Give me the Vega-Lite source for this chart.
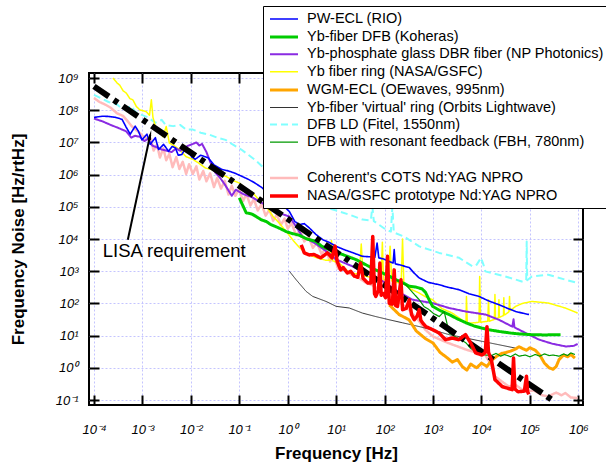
{
"$schema": "https://vega.github.io/schema/vega-lite/v6.json",
"autosize": "none",
"width": 494, "height": 332,
"padding": {"left": 89, "top": 73, "right": 23, "bottom": 61},
"background": "white",
"datasets": {
"main": [
{"s":"Coherent's COTS Nd:YAG NPRO","f":1e-4,"n":2.4e8},{"s":"Coherent's COTS Nd:YAG NPRO","f":1.3e-4,"n":1.8e8},{"s":"Coherent's COTS Nd:YAG NPRO","f":1.7e-4,"n":1.5e8},{"s":"Coherent's COTS Nd:YAG NPRO","f":2.2e-4,"n":1.2e8},{"s":"Coherent's COTS Nd:YAG NPRO","f":3e-4,"n":8e7},{"s":"Coherent's COTS Nd:YAG NPRO","f":4e-4,"n":6.6e7},{"s":"Coherent's COTS Nd:YAG NPRO","f":5e-4,"n":4.5e7},{"s":"Coherent's COTS Nd:YAG NPRO","f":6e-4,"n":3.2e7},{"s":"Coherent's COTS Nd:YAG NPRO","f":7e-4,"n":2.6e7},{"s":"Coherent's COTS Nd:YAG NPRO","f":8e-4,"n":2.2e7},{"s":"Coherent's COTS Nd:YAG NPRO","f":9e-4,"n":1.9e7},{"s":"Coherent's COTS Nd:YAG NPRO","f":1e-3,"n":1.6e7},{"s":"Coherent's COTS Nd:YAG NPRO","f":1.1e-3,"n":1.5e7},{"s":"Coherent's COTS Nd:YAG NPRO","f":1.3e-3,"n":1.2e7},{"s":"Coherent's COTS Nd:YAG NPRO","f":1.5e-3,"n":1.3e7},{"s":"Coherent's COTS Nd:YAG NPRO","f":1.7e-3,"n":5.6e6},{"s":"Coherent's COTS Nd:YAG NPRO","f":2e-3,"n":8.5e6},{"s":"Coherent's COTS Nd:YAG NPRO","f":2.3e-3,"n":3.4e6},{"s":"Coherent's COTS Nd:YAG NPRO","f":2.7e-3,"n":6.6e6},{"s":"Coherent's COTS Nd:YAG NPRO","f":3.1e-3,"n":2.8e6},{"s":"Coherent's COTS Nd:YAG NPRO","f":3.6e-3,"n":4.4e6},{"s":"Coherent's COTS Nd:YAG NPRO","f":4.2e-3,"n":1.7e6},{"s":"Coherent's COTS Nd:YAG NPRO","f":5e-3,"n":3.5e6},{"s":"Coherent's COTS Nd:YAG NPRO","f":5.8e-3,"n":1.5e6},{"s":"Coherent's COTS Nd:YAG NPRO","f":6.8e-3,"n":2.5e6},{"s":"Coherent's COTS Nd:YAG NPRO","f":8e-3,"n":1.05e6},{"s":"Coherent's COTS Nd:YAG NPRO","f":9.2e-3,"n":2.1e6},{"s":"Coherent's COTS Nd:YAG NPRO","f":0.011,"n":1.05e6},{"s":"Coherent's COTS Nd:YAG NPRO","f":0.013,"n":1.8e6},{"s":"Coherent's COTS Nd:YAG NPRO","f":0.015,"n":7e5},{"s":"Coherent's COTS Nd:YAG NPRO","f":0.018,"n":1.3e6},{"s":"Coherent's COTS Nd:YAG NPRO","f":0.021,"n":6.2e5},{"s":"Coherent's COTS Nd:YAG NPRO","f":0.025,"n":1.1e6},{"s":"Coherent's COTS Nd:YAG NPRO","f":0.03,"n":4.1e5},{"s":"Coherent's COTS Nd:YAG NPRO","f":0.035,"n":7.8e5},{"s":"Coherent's COTS Nd:YAG NPRO","f":0.042,"n":3.7e5},{"s":"Coherent's COTS Nd:YAG NPRO","f":0.05,"n":6.4e5},{"s":"Coherent's COTS Nd:YAG NPRO","f":0.06,"n":2.4e5},{"s":"Coherent's COTS Nd:YAG NPRO","f":0.07,"n":4.5e5},{"s":"Coherent's COTS Nd:YAG NPRO","f":0.083,"n":2.2e5},{"s":"Coherent's COTS Nd:YAG NPRO","f":0.1,"n":3.5e5},{"s":"Coherent's COTS Nd:YAG NPRO","f":0.12,"n":1.5e5},{"s":"Coherent's COTS Nd:YAG NPRO","f":0.14,"n":2.5e5},{"s":"Coherent's COTS Nd:YAG NPRO","f":0.17,"n":1.1e5},{"s":"Coherent's COTS Nd:YAG NPRO","f":0.2,"n":1.75e5},{"s":"Coherent's COTS Nd:YAG NPRO","f":0.24,"n":7.7e4},{"s":"Coherent's COTS Nd:YAG NPRO","f":0.29,"n":1.2e5},{"s":"Coherent's COTS Nd:YAG NPRO","f":0.35,"n":5.3e4},{"s":"Coherent's COTS Nd:YAG NPRO","f":0.42,"n":8.2e4},{"s":"Coherent's COTS Nd:YAG NPRO","f":0.5,"n":3.7e4},{"s":"Coherent's COTS Nd:YAG NPRO","f":0.6,"n":5.8e4},{"s":"Coherent's COTS Nd:YAG NPRO","f":0.72,"n":2.7e4},{"s":"Coherent's COTS Nd:YAG NPRO","f":0.86,"n":4.3e4},{"s":"Coherent's COTS Nd:YAG NPRO","f":1,"n":2.1e4},{"s":"Coherent's COTS Nd:YAG NPRO","f":1.2,"n":3.1e4},{"s":"Coherent's COTS Nd:YAG NPRO","f":1.5,"n":1.3e4},{"s":"Coherent's COTS Nd:YAG NPRO","f":1.8,"n":1.9e4},{"s":"Coherent's COTS Nd:YAG NPRO","f":2.2,"n":8.4e3},{"s":"Coherent's COTS Nd:YAG NPRO","f":2.7,"n":1.2e4},{"s":"Coherent's COTS Nd:YAG NPRO","f":3.3,"n":5.3e3},{"s":"Coherent's COTS Nd:YAG NPRO","f":4,"n":7.8e3},{"s":"Coherent's COTS Nd:YAG NPRO","f":5,"n":3.4e3},{"s":"Coherent's COTS Nd:YAG NPRO","f":6,"n":5.1e3},{"s":"Coherent's COTS Nd:YAG NPRO","f":7.5,"n":2e3},{"s":"Coherent's COTS Nd:YAG NPRO","f":9,"n":2.9e3},{"s":"Coherent's COTS Nd:YAG NPRO","f":11,"n":1.2e3},{"s":"Coherent's COTS Nd:YAG NPRO","f":15,"n":1.1e3},{"s":"Coherent's COTS Nd:YAG NPRO","f":20,"n":800},{"s":"Coherent's COTS Nd:YAG NPRO","f":28,"n":650},{"s":"Coherent's COTS Nd:YAG NPRO","f":40,"n":450},{"s":"Coherent's COTS Nd:YAG NPRO","f":60,"n":350},{"s":"Coherent's COTS Nd:YAG NPRO","f":90,"n":220},{"s":"Coherent's COTS Nd:YAG NPRO","f":130,"n":160},{"s":"Coherent's COTS Nd:YAG NPRO","f":200,"n":110},{"s":"Coherent's COTS Nd:YAG NPRO","f":300,"n":70},{"s":"Coherent's COTS Nd:YAG NPRO","f":500,"n":30},{"s":"Coherent's COTS Nd:YAG NPRO","f":700,"n":15},{"s":"Coherent's COTS Nd:YAG NPRO","f":1000,"n":9.4},{"s":"Coherent's COTS Nd:YAG NPRO","f":2000,"n":6},{"s":"Coherent's COTS Nd:YAG NPRO","f":5000,"n":3.6},{"s":"Coherent's COTS Nd:YAG NPRO","f":12000,"n":2.5},{"s":"Coherent's COTS Nd:YAG NPRO","f":16000,"n":1.2},{"s":"Coherent's COTS Nd:YAG NPRO","f":19000,"n":0.54},{"s":"Coherent's COTS Nd:YAG NPRO","f":25000,"n":0.4},{"s":"Coherent's COTS Nd:YAG NPRO","f":37000,"n":0.26},{"s":"Coherent's COTS Nd:YAG NPRO","f":50000,"n":0.3},{"s":"Coherent's COTS Nd:YAG NPRO","f":80000,"n":0.18},{"s":"Coherent's COTS Nd:YAG NPRO","f":120000,"n":0.2},{"s":"Coherent's COTS Nd:YAG NPRO","f":180000,"n":0.14},{"s":"Coherent's COTS Nd:YAG NPRO","f":240000,"n":0.13},{"s":"Coherent's COTS Nd:YAG NPRO","f":350000,"n":0.17},{"s":"Coherent's COTS Nd:YAG NPRO","f":450000,"n":0.14},{"s":"Coherent's COTS Nd:YAG NPRO","f":540000,"n":0.165},{"s":"Coherent's COTS Nd:YAG NPRO","f":700000,"n":0.12},{"s":"Coherent's COTS Nd:YAG NPRO","f":970000,"n":0.115},

{"s":"DFB LD (Fitel, 1550nm)","f":1e-4,"n":3e8},{"s":"DFB LD (Fitel, 1550nm)","f":2e-4,"n":1.8e8},{"s":"DFB LD (Fitel, 1550nm)","f":3e-4,"n":1.5e8},{"s":"DFB LD (Fitel, 1550nm)","f":3.8e-4,"n":1.1e8},{"s":"DFB LD (Fitel, 1550nm)","f":5e-4,"n":1.2e8},{"s":"DFB LD (Fitel, 1550nm)","f":6e-4,"n":1.35e8},{"s":"DFB LD (Fitel, 1550nm)","f":7e-4,"n":9e7},{"s":"DFB LD (Fitel, 1550nm)","f":1e-3,"n":7e7},{"s":"DFB LD (Fitel, 1550nm)","f":1.3e-3,"n":6e7},{"s":"DFB LD (Fitel, 1550nm)","f":1.85e-3,"n":4.1e7},{"s":"DFB LD (Fitel, 1550nm)","f":2.5e-3,"n":5e7},{"s":"DFB LD (Fitel, 1550nm)","f":3e-3,"n":3.5e7},{"s":"DFB LD (Fitel, 1550nm)","f":4.3e-3,"n":3.2e7},{"s":"DFB LD (Fitel, 1550nm)","f":6e-3,"n":3.5e7},{"s":"DFB LD (Fitel, 1550nm)","f":8e-3,"n":2.5e7},{"s":"DFB LD (Fitel, 1550nm)","f":0.011,"n":2.5e7},{"s":"DFB LD (Fitel, 1550nm)","f":0.016,"n":2e7},{"s":"DFB LD (Fitel, 1550nm)","f":0.024,"n":1.74e7},{"s":"DFB LD (Fitel, 1550nm)","f":0.035,"n":1.4e7},{"s":"DFB LD (Fitel, 1550nm)","f":0.052,"n":1.2e7},{"s":"DFB LD (Fitel, 1550nm)","f":0.07,"n":9e6},{"s":"DFB LD (Fitel, 1550nm)","f":0.11,"n":6e6},{"s":"DFB LD (Fitel, 1550nm)","f":0.21,"n":2.9e6},{"s":"DFB LD (Fitel, 1550nm)","f":0.29,"n":1.85e6},{"s":"DFB LD (Fitel, 1550nm)","f":0.5,"n":1.2e6},{"s":"DFB LD (Fitel, 1550nm)","f":1,"n":5e5},{"s":"DFB LD (Fitel, 1550nm)","f":2,"n":2.5e5},{"s":"DFB LD (Fitel, 1550nm)","f":4.5,"n":1.03e5},{"s":"DFB LD (Fitel, 1550nm)","f":7,"n":9e4},{"s":"DFB LD (Fitel, 1550nm)","f":11.6,"n":7.2e4},{"s":"DFB LD (Fitel, 1550nm)","f":20,"n":5.5e4},{"s":"DFB LD (Fitel, 1550nm)","f":35,"n":4e4},{"s":"DFB LD (Fitel, 1550nm)","f":52,"n":3.8e4},{"s":"DFB LD (Fitel, 1550nm)","f":56,"n":1e5},{"s":"DFB LD (Fitel, 1550nm)","f":60,"n":3.6e4},{"s":"DFB LD (Fitel, 1550nm)","f":107,"n":1.95e4},{"s":"DFB LD (Fitel, 1550nm)","f":135,"n":1.7e4},{"s":"DFB LD (Fitel, 1550nm)","f":145,"n":1e5},{"s":"DFB LD (Fitel, 1550nm)","f":155,"n":1.6e4},{"s":"DFB LD (Fitel, 1550nm)","f":250,"n":1.2e4},{"s":"DFB LD (Fitel, 1550nm)","f":520,"n":5.9e3},{"s":"DFB LD (Fitel, 1550nm)","f":1340,"n":3.7e3},{"s":"DFB LD (Fitel, 1550nm)","f":3470,"n":2.6e3},{"s":"DFB LD (Fitel, 1550nm)","f":6600,"n":1.4e3},{"s":"DFB LD (Fitel, 1550nm)","f":8000,"n":1.6e3},{"s":"DFB LD (Fitel, 1550nm)","f":9800,"n":2.6e3},{"s":"DFB LD (Fitel, 1550nm)","f":11000,"n":1.6e3},{"s":"DFB LD (Fitel, 1550nm)","f":12000,"n":990},{"s":"DFB LD (Fitel, 1550nm)","f":31000,"n":690},{"s":"DFB LD (Fitel, 1550nm)","f":68000,"n":480},{"s":"DFB LD (Fitel, 1550nm)","f":84000,"n":520},{"s":"DFB LD (Fitel, 1550nm)","f":86000,"n":8400},{"s":"DFB LD (Fitel, 1550nm)","f":88000,"n":520},{"s":"DFB LD (Fitel, 1550nm)","f":110000,"n":690},{"s":"DFB LD (Fitel, 1550nm)","f":240000,"n":780},{"s":"DFB LD (Fitel, 1550nm)","f":540000,"n":545},{"s":"DFB LD (Fitel, 1550nm)","f":970000,"n":430},

{"s":"Yb fiber ring (NASA/GSFC)","f":2.46e-4,"n":1e9},{"s":"Yb fiber ring (NASA/GSFC)","f":3e-4,"n":7e8},{"s":"Yb fiber ring (NASA/GSFC)","f":3.4e-4,"n":6e8},{"s":"Yb fiber ring (NASA/GSFC)","f":4e-4,"n":4e8},{"s":"Yb fiber ring (NASA/GSFC)","f":4.65e-4,"n":3.4e8},{"s":"Yb fiber ring (NASA/GSFC)","f":5.5e-4,"n":2.3e8},{"s":"Yb fiber ring (NASA/GSFC)","f":6.35e-4,"n":2.1e8},{"s":"Yb fiber ring (NASA/GSFC)","f":7.5e-4,"n":1.3e8},{"s":"Yb fiber ring (NASA/GSFC)","f":8.8e-4,"n":1.03e8},{"s":"Yb fiber ring (NASA/GSFC)","f":1.2e-3,"n":9e7},{"s":"Yb fiber ring (NASA/GSFC)","f":1.4e-3,"n":7e7},{"s":"Yb fiber ring (NASA/GSFC)","f":1.53e-3,"n":2.1e8},{"s":"Yb fiber ring (NASA/GSFC)","f":1.65e-3,"n":6e7},{"s":"Yb fiber ring (NASA/GSFC)","f":1.78e-3,"n":4e7},{"s":"Yb fiber ring (NASA/GSFC)","f":1.9e-3,"n":2.5e7},{"s":"Yb fiber ring (NASA/GSFC)","f":2.3e-3,"n":2e7},{"s":"Yb fiber ring (NASA/GSFC)","f":2.65e-3,"n":1.5e7},{"s":"Yb fiber ring (NASA/GSFC)","f":3.1e-3,"n":3.1e7},{"s":"Yb fiber ring (NASA/GSFC)","f":3.6e-3,"n":9.5e6},{"s":"Yb fiber ring (NASA/GSFC)","f":4.5e-3,"n":8e6},{"s":"Yb fiber ring (NASA/GSFC)","f":5.85e-3,"n":5.9e6},{"s":"Yb fiber ring (NASA/GSFC)","f":8e-3,"n":3.6e6},{"s":"Yb fiber ring (NASA/GSFC)","f":0.011,"n":3e6},{"s":"Yb fiber ring (NASA/GSFC)","f":0.015,"n":2.2e6},{"s":"Yb fiber ring (NASA/GSFC)","f":0.02,"n":1.6e6},{"s":"Yb fiber ring (NASA/GSFC)","f":0.0284,"n":1.4e6},{"s":"Yb fiber ring (NASA/GSFC)","f":0.04,"n":1e6},{"s":"Yb fiber ring (NASA/GSFC)","f":0.054,"n":8.7e5},{"s":"Yb fiber ring (NASA/GSFC)","f":0.075,"n":6.5e5},{"s":"Yb fiber ring (NASA/GSFC)","f":0.1,"n":5.5e5},{"s":"Yb fiber ring (NASA/GSFC)","f":0.14,"n":3.5e5},{"s":"Yb fiber ring (NASA/GSFC)","f":0.19,"n":2.7e5},{"s":"Yb fiber ring (NASA/GSFC)","f":0.26,"n":1.6e5},{"s":"Yb fiber ring (NASA/GSFC)","f":0.36,"n":1.03e5},{"s":"Yb fiber ring (NASA/GSFC)","f":0.5,"n":5e4},{"s":"Yb fiber ring (NASA/GSFC)","f":0.67,"n":3.1e4},{"s":"Yb fiber ring (NASA/GSFC)","f":1,"n":1.5e4},{"s":"Yb fiber ring (NASA/GSFC)","f":1.3,"n":9e3},{"s":"Yb fiber ring (NASA/GSFC)","f":1.74,"n":5.5e3},{"s":"Yb fiber ring (NASA/GSFC)","f":2.2,"n":4e3},{"s":"Yb fiber ring (NASA/GSFC)","f":2.8,"n":3.2e3},{"s":"Yb fiber ring (NASA/GSFC)","f":4,"n":2.6e3},{"s":"Yb fiber ring (NASA/GSFC)","f":6,"n":2.2e3},{"s":"Yb fiber ring (NASA/GSFC)","f":7.5,"n":2.2e3},{"s":"Yb fiber ring (NASA/GSFC)","f":8,"n":9e3},{"s":"Yb fiber ring (NASA/GSFC)","f":8.5,"n":2.1e3},{"s":"Yb fiber ring (NASA/GSFC)","f":11.6,"n":1.8e3},{"s":"Yb fiber ring (NASA/GSFC)","f":18.7,"n":900},{"s":"Yb fiber ring (NASA/GSFC)","f":30,"n":800},{"s":"Yb fiber ring (NASA/GSFC)","f":33,"n":7e3},{"s":"Yb fiber ring (NASA/GSFC)","f":36,"n":750},{"s":"Yb fiber ring (NASA/GSFC)","f":41,"n":700},{"s":"Yb fiber ring (NASA/GSFC)","f":60,"n":620},{"s":"Yb fiber ring (NASA/GSFC)","f":85,"n":560},{"s":"Yb fiber ring (NASA/GSFC)","f":90,"n":8e3},{"s":"Yb fiber ring (NASA/GSFC)","f":95,"n":540},{"s":"Yb fiber ring (NASA/GSFC)","f":120,"n":520},{"s":"Yb fiber ring (NASA/GSFC)","f":130,"n":6e3},{"s":"Yb fiber ring (NASA/GSFC)","f":140,"n":500},{"s":"Yb fiber ring (NASA/GSFC)","f":200,"n":430},{"s":"Yb fiber ring (NASA/GSFC)","f":220,"n":440},{"s":"Yb fiber ring (NASA/GSFC)","f":235,"n":1e4},{"s":"Yb fiber ring (NASA/GSFC)","f":250,"n":400},{"s":"Yb fiber ring (NASA/GSFC)","f":380,"n":260},{"s":"Yb fiber ring (NASA/GSFC)","f":520,"n":210},{"s":"Yb fiber ring (NASA/GSFC)","f":700,"n":160},{"s":"Yb fiber ring (NASA/GSFC)","f":980,"n":130},{"s":"Yb fiber ring (NASA/GSFC)","f":1500,"n":70},{"s":"Yb fiber ring (NASA/GSFC)","f":2500,"n":50},{"s":"Yb fiber ring (NASA/GSFC)","f":3500,"n":35},{"s":"Yb fiber ring (NASA/GSFC)","f":4800,"n":25},{"s":"Yb fiber ring (NASA/GSFC)","f":4900,"n":165},{"s":"Yb fiber ring (NASA/GSFC)","f":5100,"n":24},{"s":"Yb fiber ring (NASA/GSFC)","f":7000,"n":25},{"s":"Yb fiber ring (NASA/GSFC)","f":8900,"n":26},{"s":"Yb fiber ring (NASA/GSFC)","f":9200,"n":690},{"s":"Yb fiber ring (NASA/GSFC)","f":9600,"n":26},{"s":"Yb fiber ring (NASA/GSFC)","f":13500,"n":28},{"s":"Yb fiber ring (NASA/GSFC)","f":14000,"n":130},{"s":"Yb fiber ring (NASA/GSFC)","f":14500,"n":28},{"s":"Yb fiber ring (NASA/GSFC)","f":18500,"n":32},{"s":"Yb fiber ring (NASA/GSFC)","f":19000,"n":190},{"s":"Yb fiber ring (NASA/GSFC)","f":19500,"n":33},{"s":"Yb fiber ring (NASA/GSFC)","f":22500,"n":36},{"s":"Yb fiber ring (NASA/GSFC)","f":23000,"n":130},{"s":"Yb fiber ring (NASA/GSFC)","f":23500,"n":37},{"s":"Yb fiber ring (NASA/GSFC)","f":28500,"n":42},{"s":"Yb fiber ring (NASA/GSFC)","f":29000,"n":150},{"s":"Yb fiber ring (NASA/GSFC)","f":29500,"n":44},{"s":"Yb fiber ring (NASA/GSFC)","f":31000,"n":45},{"s":"Yb fiber ring (NASA/GSFC)","f":37000,"n":55},{"s":"Yb fiber ring (NASA/GSFC)","f":38000,"n":165},{"s":"Yb fiber ring (NASA/GSFC)","f":39000,"n":60},{"s":"Yb fiber ring (NASA/GSFC)","f":51000,"n":81},{"s":"Yb fiber ring (NASA/GSFC)","f":70000,"n":100},{"s":"Yb fiber ring (NASA/GSFC)","f":110000,"n":115},{"s":"Yb fiber ring (NASA/GSFC)","f":240000,"n":103},{"s":"Yb fiber ring (NASA/GSFC)","f":540000,"n":72},{"s":"Yb fiber ring (NASA/GSFC)","f":970000,"n":50},

{"s":"Yb-phosphate glass DBR fiber (NP Photonics)","f":1e-4,"n":5.5e7},{"s":"Yb-phosphate glass DBR fiber (NP Photonics)","f":1.5e-4,"n":4.5e7},{"s":"Yb-phosphate glass DBR fiber (NP Photonics)","f":2.2e-4,"n":3.5e7},{"s":"Yb-phosphate glass DBR fiber (NP Photonics)","f":3.2e-4,"n":2.8e7},{"s":"Yb-phosphate glass DBR fiber (NP Photonics)","f":4.65e-4,"n":2.2e7},{"s":"Yb-phosphate glass DBR fiber (NP Photonics)","f":5.9e-4,"n":1.4e7},{"s":"Yb-phosphate glass DBR fiber (NP Photonics)","f":7e-4,"n":1.6e7},{"s":"Yb-phosphate glass DBR fiber (NP Photonics)","f":8.8e-4,"n":1.5e7},{"s":"Yb-phosphate glass DBR fiber (NP Photonics)","f":1.1e-3,"n":1.1e7},{"s":"Yb-phosphate glass DBR fiber (NP Photonics)","f":1.3e-3,"n":1.3e7},{"s":"Yb-phosphate glass DBR fiber (NP Photonics)","f":1.6e-3,"n":8e6},{"s":"Yb-phosphate glass DBR fiber (NP Photonics)","f":2e-3,"n":7e6},{"s":"Yb-phosphate glass DBR fiber (NP Photonics)","f":2.5e-3,"n":6e6},{"s":"Yb-phosphate glass DBR fiber (NP Photonics)","f":3.2e-3,"n":5.5e6},{"s":"Yb-phosphate glass DBR fiber (NP Photonics)","f":4e-3,"n":5e6},{"s":"Yb-phosphate glass DBR fiber (NP Photonics)","f":5e-3,"n":6.5e6},{"s":"Yb-phosphate glass DBR fiber (NP Photonics)","f":6e-3,"n":5.5e6},{"s":"Yb-phosphate glass DBR fiber (NP Photonics)","f":7.5e-3,"n":7e6},{"s":"Yb-phosphate glass DBR fiber (NP Photonics)","f":9e-3,"n":8e6},{"s":"Yb-phosphate glass DBR fiber (NP Photonics)","f":0.011,"n":9e6},{"s":"Yb-phosphate glass DBR fiber (NP Photonics)","f":0.013,"n":1e7},{"s":"Yb-phosphate glass DBR fiber (NP Photonics)","f":0.015,"n":8e6},{"s":"Yb-phosphate glass DBR fiber (NP Photonics)","f":0.017,"n":9e6},{"s":"Yb-phosphate glass DBR fiber (NP Photonics)","f":0.021,"n":5e6},{"s":"Yb-phosphate glass DBR fiber (NP Photonics)","f":0.025,"n":2.5e6},{"s":"Yb-phosphate glass DBR fiber (NP Photonics)","f":0.032,"n":1.15e6},{"s":"Yb-phosphate glass DBR fiber (NP Photonics)","f":0.04,"n":8e5},{"s":"Yb-phosphate glass DBR fiber (NP Photonics)","f":0.05,"n":5e5},{"s":"Yb-phosphate glass DBR fiber (NP Photonics)","f":0.07,"n":2.2e5},{"s":"Yb-phosphate glass DBR fiber (NP Photonics)","f":0.085,"n":3.4e5},{"s":"Yb-phosphate glass DBR fiber (NP Photonics)","f":0.12,"n":2.5e5},{"s":"Yb-phosphate glass DBR fiber (NP Photonics)","f":0.18,"n":2e5},{"s":"Yb-phosphate glass DBR fiber (NP Photonics)","f":0.3,"n":1.3e5},{"s":"Yb-phosphate glass DBR fiber (NP Photonics)","f":0.5,"n":8e4},{"s":"Yb-phosphate glass DBR fiber (NP Photonics)","f":0.75,"n":6e4},{"s":"Yb-phosphate glass DBR fiber (NP Photonics)","f":1.08,"n":5e4},{"s":"Yb-phosphate glass DBR fiber (NP Photonics)","f":1.5,"n":2.4e4},{"s":"Yb-phosphate glass DBR fiber (NP Photonics)","f":2,"n":1.2e4},{"s":"Yb-phosphate glass DBR fiber (NP Photonics)","f":3.6,"n":7.5e3},{"s":"Yb-phosphate glass DBR fiber (NP Photonics)","f":7,"n":3.7e3},{"s":"Yb-phosphate glass DBR fiber (NP Photonics)","f":10,"n":2.3e3},{"s":"Yb-phosphate glass DBR fiber (NP Photonics)","f":20,"n":1.5e3},{"s":"Yb-phosphate glass DBR fiber (NP Photonics)","f":30,"n":1.1e3},{"s":"Yb-phosphate glass DBR fiber (NP Photonics)","f":60,"n":700},{"s":"Yb-phosphate glass DBR fiber (NP Photonics)","f":100,"n":450},{"s":"Yb-phosphate glass DBR fiber (NP Photonics)","f":200,"n":220},{"s":"Yb-phosphate glass DBR fiber (NP Photonics)","f":380,"n":130},{"s":"Yb-phosphate glass DBR fiber (NP Photonics)","f":980,"n":102},{"s":"Yb-phosphate glass DBR fiber (NP Photonics)","f":2160,"n":72},{"s":"Yb-phosphate glass DBR fiber (NP Photonics)","f":4770,"n":56},{"s":"Yb-phosphate glass DBR fiber (NP Photonics)","f":12300,"n":45},{"s":"Yb-phosphate glass DBR fiber (NP Photonics)","f":23000,"n":31},{"s":"Yb-phosphate glass DBR fiber (NP Photonics)","f":43500,"n":19},{"s":"Yb-phosphate glass DBR fiber (NP Photonics)","f":46000,"n":32},{"s":"Yb-phosphate glass DBR fiber (NP Photonics)","f":48000,"n":18},{"s":"Yb-phosphate glass DBR fiber (NP Photonics)","f":82000,"n":12},{"s":"Yb-phosphate glass DBR fiber (NP Photonics)","f":155000,"n":7.5},{"s":"Yb-phosphate glass DBR fiber (NP Photonics)","f":290000,"n":5.6},{"s":"Yb-phosphate glass DBR fiber (NP Photonics)","f":550000,"n":4.6},{"s":"Yb-phosphate glass DBR fiber (NP Photonics)","f":800000,"n":4.8},{"s":"Yb-phosphate glass DBR fiber (NP Photonics)","f":970000,"n":5.5},

{"s":"PW-ECL (RIO)","f":1e-4,"n":6e7},{"s":"PW-ECL (RIO)","f":1.5e-4,"n":6.5e7},{"s":"PW-ECL (RIO)","f":2e-4,"n":6.4e7},{"s":"PW-ECL (RIO)","f":2.8e-4,"n":6e7},{"s":"PW-ECL (RIO)","f":3.8e-4,"n":5.2e7},{"s":"PW-ECL (RIO)","f":4.6e-4,"n":3e7},{"s":"PW-ECL (RIO)","f":5.6e-4,"n":1.8e7},{"s":"PW-ECL (RIO)","f":7.1e-4,"n":3.2e7},{"s":"PW-ECL (RIO)","f":8.3e-4,"n":2.2e7},{"s":"PW-ECL (RIO)","f":9.8e-4,"n":1.2e7},{"s":"PW-ECL (RIO)","f":1.24e-3,"n":1.8e7},{"s":"PW-ECL (RIO)","f":1.45e-3,"n":8.7e6},{"s":"PW-ECL (RIO)","f":1.85e-3,"n":1.4e7},{"s":"PW-ECL (RIO)","f":2.16e-3,"n":6e6},{"s":"PW-ECL (RIO)","f":2.74e-3,"n":8.7e6},{"s":"PW-ECL (RIO)","f":3.47e-3,"n":5.3e6},{"s":"PW-ECL (RIO)","f":4.1e-3,"n":7.5e6},{"s":"PW-ECL (RIO)","f":4.77e-3,"n":6.8e6},{"s":"PW-ECL (RIO)","f":5.5e-3,"n":4e6},{"s":"PW-ECL (RIO)","f":6.5e-3,"n":4.2e6},{"s":"PW-ECL (RIO)","f":7.5e-3,"n":6e6},{"s":"PW-ECL (RIO)","f":8.9e-3,"n":5.3e6},{"s":"PW-ECL (RIO)","f":0.0105,"n":3.5e6},{"s":"PW-ECL (RIO)","f":0.0123,"n":3e6},{"s":"PW-ECL (RIO)","f":0.016,"n":4e6},{"s":"PW-ECL (RIO)","f":0.023,"n":3.3e6},{"s":"PW-ECL (RIO)","f":0.03,"n":2e6},{"s":"PW-ECL (RIO)","f":0.0435,"n":1.45e6},{"s":"PW-ECL (RIO)","f":0.06,"n":1.3e6},{"s":"PW-ECL (RIO)","f":0.082,"n":1.1e6},{"s":"PW-ECL (RIO)","f":0.11,"n":9e5},{"s":"PW-ECL (RIO)","f":0.155,"n":7.1e5},{"s":"PW-ECL (RIO)","f":0.21,"n":5.5e5},{"s":"PW-ECL (RIO)","f":0.29,"n":4e5},{"s":"PW-ECL (RIO)","f":0.45,"n":2.2e5},{"s":"PW-ECL (RIO)","f":0.67,"n":1.5e5},{"s":"PW-ECL (RIO)","f":0.85,"n":1e5},{"s":"PW-ECL (RIO)","f":1.08,"n":7.2e4},{"s":"PW-ECL (RIO)","f":1.4,"n":3.5e4},{"s":"PW-ECL (RIO)","f":1.74,"n":2.8e4},{"s":"PW-ECL (RIO)","f":2.2,"n":3e4},{"s":"PW-ECL (RIO)","f":2.8,"n":2.2e4},{"s":"PW-ECL (RIO)","f":3.8,"n":1.4e4},{"s":"PW-ECL (RIO)","f":5.3,"n":9.5e3},{"s":"PW-ECL (RIO)","f":7,"n":8e3},{"s":"PW-ECL (RIO)","f":10,"n":5.9e3},{"s":"PW-ECL (RIO)","f":14,"n":4.8e3},{"s":"PW-ECL (RIO)","f":18.7,"n":4.1e3},{"s":"PW-ECL (RIO)","f":25,"n":3.5e3},{"s":"PW-ECL (RIO)","f":35,"n":2.9e3},{"s":"PW-ECL (RIO)","f":50,"n":2.8e3},{"s":"PW-ECL (RIO)","f":63,"n":2.7e3},{"s":"PW-ECL (RIO)","f":70,"n":7.5e3},{"s":"PW-ECL (RIO)","f":76,"n":2.6e3},{"s":"PW-ECL (RIO)","f":95,"n":2.4e3},{"s":"PW-ECL (RIO)","f":125,"n":2e3},{"s":"PW-ECL (RIO)","f":150,"n":1.8e3},{"s":"PW-ECL (RIO)","f":158,"n":4.7e3},{"s":"PW-ECL (RIO)","f":166,"n":1.7e3},{"s":"PW-ECL (RIO)","f":230,"n":1.5e3},{"s":"PW-ECL (RIO)","f":323,"n":1.3e3},{"s":"PW-ECL (RIO)","f":400,"n":900},{"s":"PW-ECL (RIO)","f":520,"n":615},{"s":"PW-ECL (RIO)","f":800,"n":450},{"s":"PW-ECL (RIO)","f":1340,"n":380},{"s":"PW-ECL (RIO)","f":2000,"n":320},{"s":"PW-ECL (RIO)","f":3470,"n":266},{"s":"PW-ECL (RIO)","f":5500,"n":200},{"s":"PW-ECL (RIO)","f":8900,"n":165},{"s":"PW-ECL (RIO)","f":14000,"n":120},{"s":"PW-ECL (RIO)","f":23000,"n":91},{"s":"PW-ECL (RIO)","f":35000,"n":70},{"s":"PW-ECL (RIO)","f":51000,"n":56},{"s":"PW-ECL (RIO)","f":70000,"n":50},{"s":"PW-ECL (RIO)","f":96000,"n":45},

{"s":"Yb-fiber 'virtual' ring (Orbits Lightwave)","f":1.08,"n":1000},{"s":"Yb-fiber 'virtual' ring (Orbits Lightwave)","f":1.49,"n":545},{"s":"Yb-fiber 'virtual' ring (Orbits Lightwave)","f":2.4,"n":236},{"s":"Yb-fiber 'virtual' ring (Orbits Lightwave)","f":3.28,"n":165},{"s":"Yb-fiber 'virtual' ring (Orbits Lightwave)","f":6.2,"n":115},{"s":"Yb-fiber 'virtual' ring (Orbits Lightwave)","f":10,"n":81},{"s":"Yb-fiber 'virtual' ring (Orbits Lightwave)","f":18.7,"n":72},{"s":"Yb-fiber 'virtual' ring (Orbits Lightwave)","f":35,"n":50},{"s":"Yb-fiber 'virtual' ring (Orbits Lightwave)","f":66,"n":39},{"s":"Yb-fiber 'virtual' ring (Orbits Lightwave)","f":125,"n":31},{"s":"Yb-fiber 'virtual' ring (Orbits Lightwave)","f":235,"n":25},{"s":"Yb-fiber 'virtual' ring (Orbits Lightwave)","f":525,"n":19},{"s":"Yb-fiber 'virtual' ring (Orbits Lightwave)","f":980,"n":15},{"s":"Yb-fiber 'virtual' ring (Orbits Lightwave)","f":2160,"n":10.7},{"s":"Yb-fiber 'virtual' ring (Orbits Lightwave)","f":4800,"n":8.4},{"s":"Yb-fiber 'virtual' ring (Orbits Lightwave)","f":10500,"n":6.6},{"s":"Yb-fiber 'virtual' ring (Orbits Lightwave)","f":23000,"n":5.2},{"s":"Yb-fiber 'virtual' ring (Orbits Lightwave)","f":50000,"n":4.1},

{"s":"WGM-ECL (OEwaves, 995nm)","f":125,"n":90},{"s":"WGM-ECL (OEwaves, 995nm)","f":200,"n":45},{"s":"WGM-ECL (OEwaves, 995nm)","f":320,"n":31},{"s":"WGM-ECL (OEwaves, 995nm)","f":450,"n":14},{"s":"WGM-ECL (OEwaves, 995nm)","f":700,"n":8},{"s":"WGM-ECL (OEwaves, 995nm)","f":1000,"n":5.9},{"s":"WGM-ECL (OEwaves, 995nm)","f":1400,"n":3},{"s":"WGM-ECL (OEwaves, 995nm)","f":2000,"n":2},{"s":"WGM-ECL (OEwaves, 995nm)","f":2500,"n":1.5},{"s":"WGM-ECL (OEwaves, 995nm)","f":3200,"n":1.8},{"s":"WGM-ECL (OEwaves, 995nm)","f":4000,"n":1.1},{"s":"WGM-ECL (OEwaves, 995nm)","f":5000,"n":0.85},{"s":"WGM-ECL (OEwaves, 995nm)","f":6000,"n":1.3},{"s":"WGM-ECL (OEwaves, 995nm)","f":8000,"n":1.0},{"s":"WGM-ECL (OEwaves, 995nm)","f":10000,"n":1.4},{"s":"WGM-ECL (OEwaves, 995nm)","f":13000,"n":1.1},{"s":"WGM-ECL (OEwaves, 995nm)","f":16000,"n":1.7},{"s":"WGM-ECL (OEwaves, 995nm)","f":20000,"n":2.2},{"s":"WGM-ECL (OEwaves, 995nm)","f":26000,"n":2.8},{"s":"WGM-ECL (OEwaves, 995nm)","f":32000,"n":3},{"s":"WGM-ECL (OEwaves, 995nm)","f":40000,"n":3.3},{"s":"WGM-ECL (OEwaves, 995nm)","f":50000,"n":3.8},{"s":"WGM-ECL (OEwaves, 995nm)","f":60000,"n":4.5},{"s":"WGM-ECL (OEwaves, 995nm)","f":70000,"n":4},{"s":"WGM-ECL (OEwaves, 995nm)","f":85000,"n":3.5},{"s":"WGM-ECL (OEwaves, 995nm)","f":100000,"n":4.2},{"s":"WGM-ECL (OEwaves, 995nm)","f":130000,"n":3.5},{"s":"WGM-ECL (OEwaves, 995nm)","f":160000,"n":2.5},{"s":"WGM-ECL (OEwaves, 995nm)","f":200000,"n":1.4},{"s":"WGM-ECL (OEwaves, 995nm)","f":250000,"n":1.0},{"s":"WGM-ECL (OEwaves, 995nm)","f":300000,"n":0.9},{"s":"WGM-ECL (OEwaves, 995nm)","f":350000,"n":1.1},{"s":"WGM-ECL (OEwaves, 995nm)","f":400000,"n":1.8},{"s":"WGM-ECL (OEwaves, 995nm)","f":500000,"n":2.5},{"s":"WGM-ECL (OEwaves, 995nm)","f":600000,"n":2.2},{"s":"WGM-ECL (OEwaves, 995nm)","f":700000,"n":2.6},{"s":"WGM-ECL (OEwaves, 995nm)","f":850000,"n":2.0},

{"s":"Yb-fiber DFB (Koheras)","f":0.1,"n":1.9e5},{"s":"Yb-fiber DFB (Koheras)","f":0.139,"n":6.5e4},{"s":"Yb-fiber DFB (Koheras)","f":0.18,"n":6e4},{"s":"Yb-fiber DFB (Koheras)","f":0.223,"n":5e4},{"s":"Yb-fiber DFB (Koheras)","f":0.28,"n":4e4},{"s":"Yb-fiber DFB (Koheras)","f":0.36,"n":3.5e4},{"s":"Yb-fiber DFB (Koheras)","f":0.45,"n":2.8e4},{"s":"Yb-fiber DFB (Koheras)","f":0.577,"n":2.4e4},{"s":"Yb-fiber DFB (Koheras)","f":0.75,"n":2e4},{"s":"Yb-fiber DFB (Koheras)","f":0.93,"n":1.7e4},{"s":"Yb-fiber DFB (Koheras)","f":1.2,"n":1.5e4},{"s":"Yb-fiber DFB (Koheras)","f":1.74,"n":1.3e4},{"s":"Yb-fiber DFB (Koheras)","f":2.5,"n":1e4},{"s":"Yb-fiber DFB (Koheras)","f":3.85,"n":8.4e3},{"s":"Yb-fiber DFB (Koheras)","f":5,"n":6e3},{"s":"Yb-fiber DFB (Koheras)","f":7.2,"n":4.7e3},{"s":"Yb-fiber DFB (Koheras)","f":10,"n":3.8e3},{"s":"Yb-fiber DFB (Koheras)","f":13.6,"n":3.3e3},{"s":"Yb-fiber DFB (Koheras)","f":18,"n":2.8e3},{"s":"Yb-fiber DFB (Koheras)","f":25.7,"n":2.3e3},{"s":"Yb-fiber DFB (Koheras)","f":35,"n":1.8e3},{"s":"Yb-fiber DFB (Koheras)","f":48,"n":1.4e3},{"s":"Yb-fiber DFB (Koheras)","f":65,"n":1.1e3},{"s":"Yb-fiber DFB (Koheras)","f":91,"n":880},{"s":"Yb-fiber DFB (Koheras)","f":125,"n":700},{"s":"Yb-fiber DFB (Koheras)","f":172,"n":545},{"s":"Yb-fiber DFB (Koheras)","f":250,"n":420},{"s":"Yb-fiber DFB (Koheras)","f":325,"n":340},{"s":"Yb-fiber DFB (Koheras)","f":450,"n":320},{"s":"Yb-fiber DFB (Koheras)","f":600,"n":280},{"s":"Yb-fiber DFB (Koheras)","f":700,"n":220},{"s":"Yb-fiber DFB (Koheras)","f":830,"n":130},{"s":"Yb-fiber DFB (Koheras)","f":980,"n":81},{"s":"Yb-fiber DFB (Koheras)","f":1400,"n":60},{"s":"Yb-fiber DFB (Koheras)","f":2160,"n":45},{"s":"Yb-fiber DFB (Koheras)","f":3200,"n":33},{"s":"Yb-fiber DFB (Koheras)","f":4800,"n":25},{"s":"Yb-fiber DFB (Koheras)","f":7000,"n":20},{"s":"Yb-fiber DFB (Koheras)","f":10300,"n":17},{"s":"Yb-fiber DFB (Koheras)","f":15000,"n":15},{"s":"Yb-fiber DFB (Koheras)","f":23000,"n":13.5},{"s":"Yb-fiber DFB (Koheras)","f":40000,"n":12},{"s":"Yb-fiber DFB (Koheras)","f":60000,"n":11.3},{"s":"Yb-fiber DFB (Koheras)","f":110000,"n":10.7},{"s":"Yb-fiber DFB (Koheras)","f":200000,"n":10.5},{"s":"Yb-fiber DFB (Koheras)","f":430000,"n":10.7},

{"s":"DFB with resonant feedback (FBH, 780nm)","f":150,"n":600},{"s":"DFB with resonant feedback (FBH, 780nm)","f":200,"n":480},{"s":"DFB with resonant feedback (FBH, 780nm)","f":275,"n":380},{"s":"DFB with resonant feedback (FBH, 780nm)","f":400,"n":200},{"s":"DFB with resonant feedback (FBH, 780nm)","f":520,"n":130},{"s":"DFB with resonant feedback (FBH, 780nm)","f":650,"n":80},{"s":"DFB with resonant feedback (FBH, 780nm)","f":830,"n":64},{"s":"DFB with resonant feedback (FBH, 780nm)","f":1000,"n":50},{"s":"DFB with resonant feedback (FBH, 780nm)","f":1340,"n":39},{"s":"DFB with resonant feedback (FBH, 780nm)","f":1700,"n":56},{"s":"DFB with resonant feedback (FBH, 780nm)","f":2160,"n":12},{"s":"DFB with resonant feedback (FBH, 780nm)","f":2800,"n":9.4},{"s":"DFB with resonant feedback (FBH, 780nm)","f":3500,"n":8},{"s":"DFB with resonant feedback (FBH, 780nm)","f":4800,"n":5.9},{"s":"DFB with resonant feedback (FBH, 780nm)","f":6000,"n":4},{"s":"DFB with resonant feedback (FBH, 780nm)","f":8400,"n":2.9},{"s":"DFB with resonant feedback (FBH, 780nm)","f":12000,"n":2.5},{"s":"DFB with resonant feedback (FBH, 780nm)","f":16000,"n":2.4},{"s":"DFB with resonant feedback (FBH, 780nm)","f":20000,"n":2.8},{"s":"DFB with resonant feedback (FBH, 780nm)","f":25000,"n":2.3},{"s":"DFB with resonant feedback (FBH, 780nm)","f":30000,"n":2.6},{"s":"DFB with resonant feedback (FBH, 780nm)","f":40000,"n":2.2},{"s":"DFB with resonant feedback (FBH, 780nm)","f":50000,"n":2.7},{"s":"DFB with resonant feedback (FBH, 780nm)","f":60000,"n":2.3},{"s":"DFB with resonant feedback (FBH, 780nm)","f":80000,"n":2.5},{"s":"DFB with resonant feedback (FBH, 780nm)","f":100000,"n":2.2},{"s":"DFB with resonant feedback (FBH, 780nm)","f":130000,"n":2.6},{"s":"DFB with resonant feedback (FBH, 780nm)","f":160000,"n":2.3},{"s":"DFB with resonant feedback (FBH, 780nm)","f":200000,"n":2.7},{"s":"DFB with resonant feedback (FBH, 780nm)","f":250000,"n":2.4},{"s":"DFB with resonant feedback (FBH, 780nm)","f":300000,"n":2.5},{"s":"DFB with resonant feedback (FBH, 780nm)","f":400000,"n":2.3},{"s":"DFB with resonant feedback (FBH, 780nm)","f":500000,"n":2.7},{"s":"DFB with resonant feedback (FBH, 780nm)","f":600000,"n":2.4},{"s":"DFB with resonant feedback (FBH, 780nm)","f":700000,"n":2.9},{"s":"DFB with resonant feedback (FBH, 780nm)","f":850000,"n":2.6}
],
"red": [
{"s":"NASA/GSFC prototype Nd:YAG NPRO","f":1.9,"n":6600},{"s":"NASA/GSFC prototype Nd:YAG NPRO","f":2.2,"n":3700},{"s":"NASA/GSFC prototype Nd:YAG NPRO","f":2.8,"n":3200},{"s":"NASA/GSFC prototype Nd:YAG NPRO","f":3.5,"n":3300},{"s":"NASA/GSFC prototype Nd:YAG NPRO","f":4.8,"n":2600},{"s":"NASA/GSFC prototype Nd:YAG NPRO","f":6.6,"n":3700},{"s":"NASA/GSFC prototype Nd:YAG NPRO","f":8.2,"n":2600},{"s":"NASA/GSFC prototype Nd:YAG NPRO","f":9.5,"n":6000},{"s":"NASA/GSFC prototype Nd:YAG NPRO","f":10.5,"n":2000},{"s":"NASA/GSFC prototype Nd:YAG NPRO","f":12.4,"n":1100},{"s":"NASA/GSFC prototype Nd:YAG NPRO","f":14,"n":1300},{"s":"NASA/GSFC prototype Nd:YAG NPRO","f":17,"n":880},{"s":"NASA/GSFC prototype Nd:YAG NPRO","f":20,"n":1000},{"s":"NASA/GSFC prototype Nd:YAG NPRO","f":23.8,"n":700},{"s":"NASA/GSFC prototype Nd:YAG NPRO","f":28,"n":650},{"s":"NASA/GSFC prototype Nd:YAG NPRO","f":32,"n":1800},{"s":"NASA/GSFC prototype Nd:YAG NPRO","f":36,"n":600},{"s":"NASA/GSFC prototype Nd:YAG NPRO","f":45,"n":430},{"s":"NASA/GSFC prototype Nd:YAG NPRO","f":52,"n":430},{"s":"NASA/GSFC prototype Nd:YAG NPRO","f":57,"n":12000},{"s":"NASA/GSFC prototype Nd:YAG NPRO","f":62,"n":200},{"s":"NASA/GSFC prototype Nd:YAG NPRO","f":66,"n":165},{"s":"NASA/GSFC prototype Nd:YAG NPRO","f":75,"n":265},{"s":"NASA/GSFC prototype Nd:YAG NPRO","f":80,"n":1800},{"s":"NASA/GSFC prototype Nd:YAG NPRO","f":85,"n":180},{"s":"NASA/GSFC prototype Nd:YAG NPRO","f":95,"n":200},{"s":"NASA/GSFC prototype Nd:YAG NPRO","f":105,"n":150},{"s":"NASA/GSFC prototype Nd:YAG NPRO","f":115,"n":2900},{"s":"NASA/GSFC prototype Nd:YAG NPRO","f":125,"n":100},{"s":"NASA/GSFC prototype Nd:YAG NPRO","f":145,"n":95},{"s":"NASA/GSFC prototype Nd:YAG NPRO","f":158,"n":1100},{"s":"NASA/GSFC prototype Nd:YAG NPRO","f":170,"n":85},{"s":"NASA/GSFC prototype Nd:YAG NPRO","f":185,"n":81},{"s":"NASA/GSFC prototype Nd:YAG NPRO","f":218,"n":545},{"s":"NASA/GSFC prototype Nd:YAG NPRO","f":235,"n":64},{"s":"NASA/GSFC prototype Nd:YAG NPRO","f":280,"n":70},{"s":"NASA/GSFC prototype Nd:YAG NPRO","f":324,"n":130},{"s":"NASA/GSFC prototype Nd:YAG NPRO","f":360,"n":45},{"s":"NASA/GSFC prototype Nd:YAG NPRO","f":410,"n":31},{"s":"NASA/GSFC prototype Nd:YAG NPRO","f":470,"n":40},{"s":"NASA/GSFC prototype Nd:YAG NPRO","f":520,"n":64},{"s":"NASA/GSFC prototype Nd:YAG NPRO","f":560,"n":30},{"s":"NASA/GSFC prototype Nd:YAG NPRO","f":610,"n":25},{"s":"NASA/GSFC prototype Nd:YAG NPRO","f":710,"n":19},{"s":"NASA/GSFC prototype Nd:YAG NPRO","f":980,"n":15.3},{"s":"NASA/GSFC prototype Nd:YAG NPRO","f":1340,"n":12},{"s":"NASA/GSFC prototype Nd:YAG NPRO","f":1800,"n":7.5},{"s":"NASA/GSFC prototype Nd:YAG NPRO","f":2500,"n":8.4},{"s":"NASA/GSFC prototype Nd:YAG NPRO","f":3400,"n":7.5},{"s":"NASA/GSFC prototype Nd:YAG NPRO","f":4700,"n":10.7},{"s":"NASA/GSFC prototype Nd:YAG NPRO","f":6000,"n":5.9},{"s":"NASA/GSFC prototype Nd:YAG NPRO","f":7600,"n":2.9},{"s":"NASA/GSFC prototype Nd:YAG NPRO","f":10300,"n":2.5},{"s":"NASA/GSFC prototype Nd:YAG NPRO","f":12000,"n":3},{"s":"NASA/GSFC prototype Nd:YAG NPRO","f":13000,"n":19},{"s":"NASA/GSFC prototype Nd:YAG NPRO","f":14000,"n":3},{"s":"NASA/GSFC prototype Nd:YAG NPRO","f":16000,"n":1.8},{"s":"NASA/GSFC prototype Nd:YAG NPRO","f":19000,"n":0.43},{"s":"NASA/GSFC prototype Nd:YAG NPRO","f":27000,"n":0.26},{"s":"NASA/GSFC prototype Nd:YAG NPRO","f":43000,"n":0.21},{"s":"NASA/GSFC prototype Nd:YAG NPRO","f":46000,"n":2},{"s":"NASA/GSFC prototype Nd:YAG NPRO","f":49000,"n":0.22},{"s":"NASA/GSFC prototype Nd:YAG NPRO","f":57000,"n":0.18},{"s":"NASA/GSFC prototype Nd:YAG NPRO","f":77000,"n":0.19},{"s":"NASA/GSFC prototype Nd:YAG NPRO","f":85000,"n":0.55},{"s":"NASA/GSFC prototype Nd:YAG NPRO","f":90000,"n":0.18},{"s":"NASA/GSFC prototype Nd:YAG NPRO","f":95000,"n":0.15}
],
"lisa": [{"f":1e-4,"n":5.5e8},{"f":290000,"n":0.1}],
"arrow": [{"f":5.0e-4,"n":9500},{"f":1.45e-3,"n":1.73e7}],
"head": [{"f":1.45e-3,"n":1.71e7}],
"label": [{"f":1.52e-4,"n":4300,"t":"LISA requirement"}]
},
"layer": [
{
"data": {"name": "main"},
"mark": {"type": "line", "clip": true, "strokeCap": "butt", "strokeJoin": "round"},
"encoding": {
"x": {"field": "f", "type": "quantitative", "scale": {"type": "log", "domain": [7.89e-5, 1.25e6], "nice": false},
"axis": {"orient": "bottom", "values": [1e-4,1e-3,1e-2,1e-1,1,10,100,1000,10000,100000,1000000],
"labelExpr": "'10' + ['⁻⁴','⁻³','⁻²','⁻¹','⁰','¹','²','³','⁴','⁵','⁶','⁷','⁸','⁹'][round(log(datum.value)/LN10)+4]",
"grid": true, "gridColor": "#c4c4ff", "gridDash": [2,2], "gridWidth": 1,
"tickSize": -10, "tickWidth": 2, "tickColor": "black", "domain": false,
"labelPadding": 38, "labelBaseline": "alphabetic", "labelFontSize": 13, "labelFontStyle": "italic", "labelColor": "black", "labelFlush": false, "labelOverlap": false,
"title": "Frequency [Hz]", "titleFontSize": 17, "titleFontWeight": "bold", "titleColor": "black", "titleY": 53, "titleBaseline": "alphabetic"}},
"y": {"field": "n", "type": "quantitative", "scale": {"type": "log", "domain": [0.07, 1.43e9], "nice": false},
"axis": {"orient": "left", "values": [0.1,1,10,100,1000,10000,100000,1000000,10000000,100000000,1000000000],
"labelExpr": "'10' + ['⁻²','⁻¹','⁰','¹','²','³','⁴','⁵','⁶','⁷','⁸','⁹'][round(log(datum.value)/LN10)+2]",
"grid": true, "gridColor": "#c4c4ff", "gridDash": [2,2], "gridWidth": 1,
"tickSize": -10, "tickWidth": 2, "tickColor": "black", "domain": false,
"labelPadding": 21, "labelBaseline": "middle", "labelFontSize": 13, "labelFontStyle": "italic", "labelColor": "black", "labelFlush": false, "labelOverlap": false,
"title": "Frequency Noise [Hz/rtHz]", "titleFontSize": 17, "titleFontWeight": "bold", "titleColor": "black", "titleX": -71, "titleY": 166, "titleAngle": -90, "titleBaseline": "middle", "titleAlign": "center"}},
"color": {"field": "s", "type": "nominal",
"scale": {"domain": ["PW-ECL (RIO)","Yb-fiber DFB (Koheras)","Yb-phosphate glass DBR fiber (NP Photonics)","Yb fiber ring (NASA/GSFC)","WGM-ECL (OEwaves, 995nm)","Yb-fiber 'virtual' ring (Orbits Lightwave)","DFB LD (Fitel, 1550nm)","DFB with resonant feedback (FBH, 780nm)"," ","Coherent's COTS Nd:YAG NPRO","NASA/GSFC prototype Nd:YAG NPRO"],
"range": ["#0000ff","#00cc00","#8a2be2","#ffff00","#ffa500","#333333","#80ffff","#009900","#ffffff","#ffbbbb","#ff0000"]},
"legend": {"orient": "none", "legendX": 174, "legendY": -67, "title": null, "padding": 5, "fillColor": "white", "strokeColor": "black", "labelFont": "Liberation Sans", "labelFontSize": 14.5, "labelColor": "black", "labelLimit": 400, "labelOffset": 21, "rowPadding": 2.6, "symbolType": "M-1,0H3", "symbolSize": 196}},
"strokeWidth": {"field": "s", "type": "nominal",
"scale": {"type": "ordinal", "domain": ["PW-ECL (RIO)","Yb-fiber DFB (Koheras)","Yb-phosphate glass DBR fiber (NP Photonics)","Yb fiber ring (NASA/GSFC)","WGM-ECL (OEwaves, 995nm)","Yb-fiber 'virtual' ring (Orbits Lightwave)","DFB LD (Fitel, 1550nm)","DFB with resonant feedback (FBH, 780nm)"," ","Coherent's COTS Nd:YAG NPRO","NASA/GSFC prototype Nd:YAG NPRO"],
"range": [1.6,3,2,1.5,3,1,2,1.2,0,2.5,3.5]},
"legend": {"orient": "none", "legendX": 174, "legendY": -67, "title": null}},
"strokeDash": {"field": "s", "type": "nominal",
"scale": {"type": "ordinal", "domain": ["PW-ECL (RIO)","Yb-fiber DFB (Koheras)","Yb-phosphate glass DBR fiber (NP Photonics)","Yb fiber ring (NASA/GSFC)","WGM-ECL (OEwaves, 995nm)","Yb-fiber 'virtual' ring (Orbits Lightwave)","DFB LD (Fitel, 1550nm)","DFB with resonant feedback (FBH, 780nm)"," ","Coherent's COTS Nd:YAG NPRO","NASA/GSFC prototype Nd:YAG NPRO"],
"range": [[1,0],[1,0],[1,0],[1,0],[1,0],[1,0],[7,4],[1,0],[1,0],[1,0],[1,0]]},
"legend": {"orient": "none", "legendX": 174, "legendY": -67, "title": null}}
}
},
{
"data": {"name": "lisa"},
"mark": {"type": "line", "color": "black", "strokeWidth": 6, "strokeDash": [18,6,5,6], "strokeCap": "butt", "clip": true},
"encoding": {
"x": {"field": "f", "type": "quantitative", "axis": {"orient": "top", "values": [1e-4,1e-3,1e-2,1e-1,1,10,100,1000,10000,100000,1000000], "labels": false, "grid": false, "domain": false, "tickSize": -10, "tickWidth": 2, "tickColor": "black", "title": null}},
"y": {"field": "n", "type": "quantitative", "axis": {"orient": "right", "values": [0.1,1,10,100,1000,10000,100000,1000000,10000000,100000000,1000000000], "labels": false, "grid": false, "domain": false, "tickSize": -10, "tickWidth": 2, "tickColor": "black", "title": null}}
}
},
{
"data": {"name": "red"},
"mark": {"type": "line", "clip": true, "strokeCap": "butt", "strokeJoin": "round"},
"encoding": {
"x": {"field": "f", "type": "quantitative", "axis": null},
"y": {"field": "n", "type": "quantitative", "axis": null},
"color": {"field": "s", "type": "nominal",
"legend": {"orient": "none", "legendX": 174, "legendY": -67, "title": null}},
"strokeWidth": {"field": "s", "type": "nominal", "scale": {"type": "ordinal"},
"legend": {"orient": "none", "legendX": 174, "legendY": -67, "title": null}},
"strokeDash": {"field": "s", "type": "nominal", "scale": {"type": "ordinal"},
"legend": {"orient": "none", "legendX": 174, "legendY": -67, "title": null}}
}
},
{
"data": {"name": "arrow"},
"mark": {"type": "line", "color": "black", "strokeWidth": 2},
"encoding": {
"x": {"field": "f", "type": "quantitative", "axis": null},
"y": {"field": "n", "type": "quantitative", "axis": null}
}
},
{
"data": {"name": "head"},
"mark": {"type": "point", "shape": "M0,-1L0.35,1L-0.35,1Z", "filled": true, "color": "black", "opacity": 1, "size": 100, "angle": 12},
"encoding": {
"x": {"field": "f", "type": "quantitative", "axis": null},
"y": {"field": "n", "type": "quantitative", "axis": null}
}
},
{
"data": {"name": "label"},
"mark": {"type": "text", "align": "left", "baseline": "middle", "fontSize": 18.5, "font": "Liberation Sans", "color": "black"},
"encoding": {
"x": {"field": "f", "type": "quantitative", "axis": null},
"y": {"field": "n", "type": "quantitative", "axis": null},
"text": {"field": "t", "type": "nominal"}
}
}
],
"resolve": {"axis": {"x": "independent", "y": "independent"}},
"config": {
"font": "Liberation Sans",
"view": {"stroke": "black", "strokeWidth": 2},
"axis": {"labelFont": "Liberation Sans", "titleFont": "Liberation Sans"},
"legend": {"labelFont": "Liberation Sans"}
}
}
